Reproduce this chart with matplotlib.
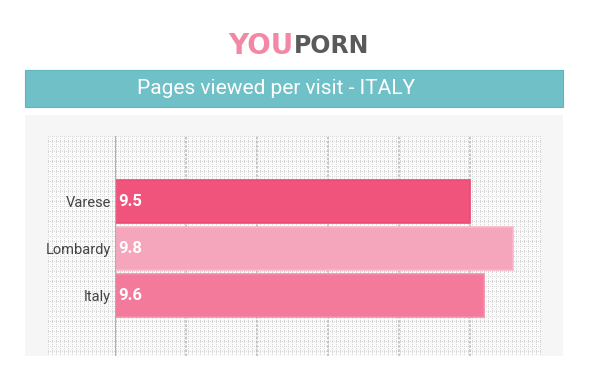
import numpy as np
import matplotlib
matplotlib.use("Agg")
import matplotlib.pyplot as plt
from matplotlib.patches import Rectangle

categories = ["Varese", "Lombardy", "Italy"]
values = [9.5, 9.8, 9.6]
value_labels = ["9.5", "9.8", "9.6"]
bar_colors = ["#F0537B", "#F6A6BC", "#F47A9B"]
edge_colors = ["#EE4A73", "#F9B8CA", "#F68AA7"]
x_min, x_max = 7.0, 10.0
grid_ticks = [7.5, 8.0, 8.5, 9.0, 9.5]
title = "Pages viewed per visit - ITALY"

W, H = 600, 391
fig = plt.figure(figsize=(W / 100, H / 100), dpi=100)
fig.patch.set_facecolor("white")

def fx(px):
    return px / W

def fy(py):
    return 1 - py / H

# logo
fig.text(fx(293), fy(46), "YOU", ha="right", va="center", fontsize=20,
         fontweight="heavy", color="#F288A6", family="DejaVu Sans")
fig.text(fx(294), fy(46), "PORN", ha="left", va="center", fontsize=17,
         fontweight="heavy", color="#5a5a5a", family="DejaVu Sans")

# title banner
fig.patches.append(Rectangle((fx(25), fy(107)), fx(563) - fx(25), fy(70) - fy(107),
                             transform=fig.transFigure, facecolor="#70C0C8",
                             edgecolor="#5DB5BF", linewidth=0.8, zorder=-2))
fig.text(fx(276), fy(89), title, ha="center", va="center", fontsize=15,
         color="white", family="Roboto")

# grey panel
fig.patches.append(Rectangle((fx(25), fy(356)), fx(563) - fx(25), fy(115) - fy(356),
                             transform=fig.transFigure, facecolor="#F6F6F6",
                             edgecolor="none", zorder=-2))

# dotted texture area
tex_l, tex_r, top, bot = 48, 541, 136, 356
bg = fig.add_axes([fx(tex_l), fy(bot), fx(tex_r) - fx(tex_l), fy(top) - fy(bot)])
bg.set_zorder(1)
nx, ny = tex_r - tex_l, bot - top
yy, xx = np.mgrid[0:ny, 0:nx]
tex = np.ones((ny, nx, 3))
mask = ((xx % 4 == 0) & (yy % 2 == 0)) | ((yy % 5 == 0) & (xx % 2 == 0))
tex[mask] = np.array([0.84, 0.84, 0.84])
tex[~mask] = np.array([0.985, 0.985, 0.985])
bg.imshow(tex, aspect="auto", interpolation="nearest")
bg.set_axis_off()

# main axes
ax_l = 115
ax = fig.add_axes([fx(ax_l), fy(bot), fx(tex_r) - fx(ax_l), fy(top) - fy(bot)])
ax.set_zorder(2)
ax.patch.set_alpha(0)
y = np.arange(len(categories))
ax.barh(y, values, left=0, height=0.91, color=bar_colors, edgecolor=edge_colors,
        linewidth=1.2, zorder=3)
ax.set_xlim(x_min, x_max)
ax.set_ylim(3.287, -1.383)
for g in grid_ticks:
    ax.axvline(g, color="#BDBDBD", linewidth=1.2, linestyle=(0, (1.5, 1)), zorder=1)
ax.axvline(x_min, color="#AFAFAF", linewidth=1.6, zorder=4)
ax.set_xticks([])
ax.set_yticks(y)
ax.set_yticklabels(categories, family="Roboto", fontsize=10.5, color="#444444")
ax.tick_params(axis="y", length=0, pad=3)
for s in ax.spines.values():
    s.set_visible(False)
for yi, lab in zip(y, value_labels):
    ax.text(x_min + 0.02, yi, lab, ha="left", va="center", color="white",
            fontsize=12, fontweight="bold", family="Roboto", zorder=5)

fig.savefig("out.png", dpi=100)
